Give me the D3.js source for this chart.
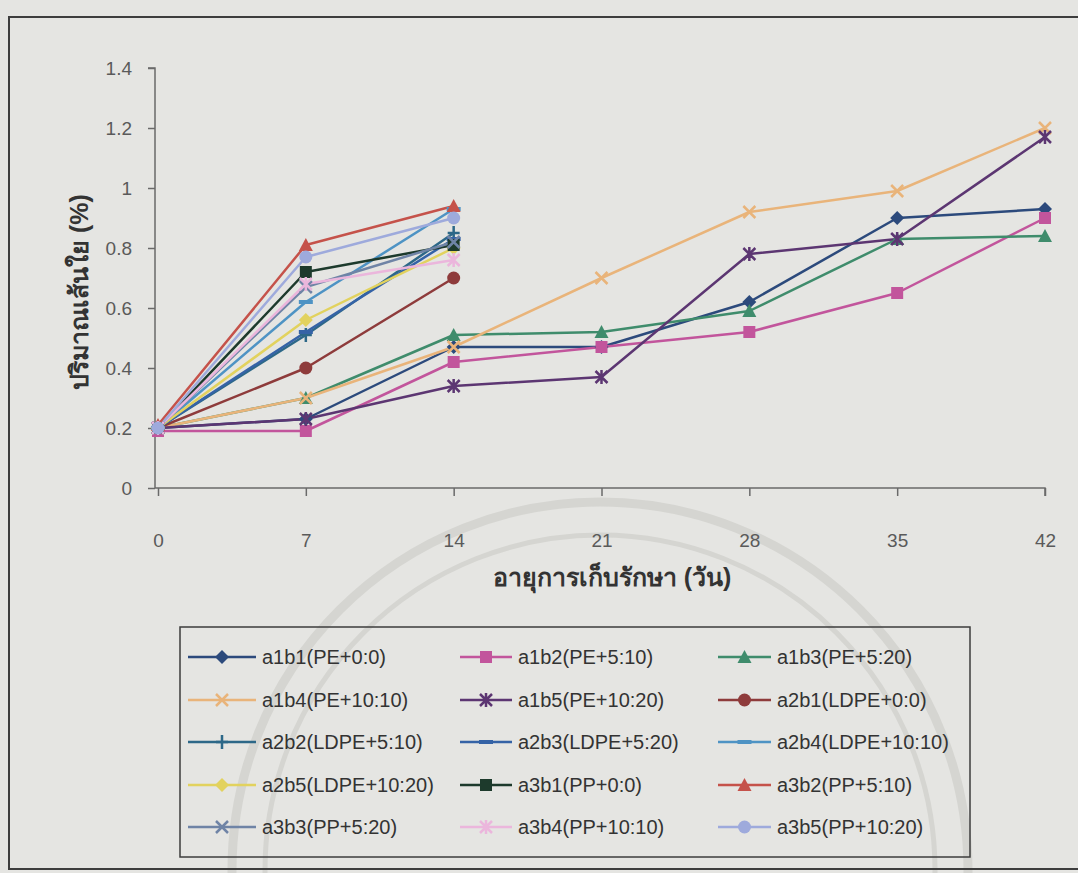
<!DOCTYPE html>
<html>
<head>
<meta charset="utf-8">
<script src="https://cdn.jsdelivr.net/npm/d3@7"></script>
<style>
  html, body { margin: 0; padding: 0; background: #e5e5e2; }
  svg { display: block; }
  text { font-family: "Liberation Sans", Arial, sans-serif; }
</style>
</head>
<body>
<svg id="chart" width="1078" height="873"></svg>
<script>
// Storage day (x axis)
const days = [0, 7, 14, 21, 28, 35, 42];
const yTicks = [0, 0.2, 0.4, 0.6, 0.8, 1, 1.2, 1.4];

// Series names
const seriesNames = [
  "a1b1(PE+0:0)", "a1b2(PE+5:10)", "a1b3(PE+5:20)",
  "a1b4(PE+10:10)", "a1b5(PE+10:20)", "a2b1(LDPE+0:0)",
  "a2b2(LDPE+5:10)", "a2b3(LDPE+5:20)", "a2b4(LDPE+10:10)",
  "a2b5(LDPE+10:20)", "a3b1(PP+0:0)", "a3b2(PP+5:10)",
  "a3b3(PP+5:20)", "a3b4(PP+10:10)", "a3b5(PP+10:20)"
];

// Fibre content (%) per storage day
const a1b1 = [0.20, 0.23, 0.47, 0.47, 0.62, 0.90, 0.93];
const a1b2 = [0.19, 0.19, 0.42, 0.47, 0.52, 0.65, 0.90];
const a1b3 = [0.20, 0.30, 0.51, 0.52, 0.59, 0.83, 0.84];
const a1b4 = [0.20, 0.30, 0.47, 0.70, 0.92, 0.99, 1.20];
const a1b5 = [0.20, 0.23, 0.34, 0.37, 0.78, 0.83, 1.17];
const a2b1 = [0.20, 0.40, 0.70];
const a2b2 = [0.20, 0.51, 0.85];
const a2b3 = [0.20, 0.52, 0.83];
const a2b4 = [0.20, 0.62, 0.93];
const a2b5 = [0.20, 0.56, 0.80];
const a3b1 = [0.20, 0.72, 0.81];
const a3b2 = [0.21, 0.81, 0.94];
const a3b3 = [0.20, 0.67, 0.82];
const a3b4 = [0.20, 0.68, 0.76];
const a3b5 = [0.20, 0.77, 0.90];

const seriesValues = [a1b1, a1b2, a1b3, a1b4, a1b5, a2b1, a2b2, a2b3, a2b4, a2b5, a3b1, a3b2, a3b3, a3b4, a3b5];

const colors = [
  "#2c4a7c", "#c2559c", "#3f8c6c", "#e9b47a", "#5c3672",
  "#8e3b3b", "#2d6888", "#3563a6", "#4e93c4", "#e2d25e",
  "#1d3a2c", "#c5524a", "#6f84a6", "#ebb6dc", "#9eaadc"
];
const shapes = [
  "diamond", "square", "triangle", "x", "asterisk",
  "circle", "plus", "dash", "dash", "diamond",
  "square", "triangle", "x", "asterisk", "circle"
];

const svg = d3.select("#chart");

// Faint seal rings in the background
const deco = svg.append("g").attr("fill", "none").attr("stroke", "#d5d5d1");
deco.append("circle").attr("cx", 600).attr("cy", 870).attr("r", 368).attr("stroke-width", 9);
deco.append("circle").attr("cx", 600).attr("cy", 870).attr("r", 335).attr("stroke-width", 5);

// Outer frame
svg.append("rect").attr("x", 9).attr("y", 17).attr("width", 1080).attr("height", 852)
  .attr("fill", "none").attr("stroke", "#3d3d3d").attr("stroke-width", 2);

const x = d3.scaleLinear().domain([0, 42]).range([158, 1045]);
const y = d3.scaleLinear().domain([0, 1.4]).range([488, 68]);

const axisColor = "#6a6a6a";

// Y axis
const yAxis = svg.append("g").attr("transform", "translate(155,0)")
  .call(d3.axisLeft(y).tickValues(yTicks).tickSize(7).tickPadding(16)
    .tickFormat(d => d3.format("~g")(d)));
// X axis
const xAxis = svg.append("g").attr("transform", "translate(0,488)")
  .call(d3.axisBottom(x).tickValues(days).tickSize(8).tickPadding(38));
[yAxis, xAxis].forEach(g => {
  g.select(".domain").attr("stroke", axisColor).attr("stroke-width", 1.5);
  g.selectAll(".tick line").attr("stroke", axisColor).attr("stroke-width", 1.5);
  g.selectAll(".tick text").attr("fill", "#5a5a5a").style("font-size", "19px");
});
// x axis starts at the y axis line
xAxis.select(".domain").attr("d", "M155,0H1045V8");
yAxis.select(".domain").attr("d", "M-7,68H0V488");

// Axis titles
svg.append("text").attr("x", 612).attr("y", 586).attr("text-anchor", "middle")
  .style("font-size", "25px").style("font-weight", "bold").attr("fill", "#333")
  .text("อายุการเก็บรักษา (วัน)");
svg.append("text").attr("transform", "translate(88,292) rotate(-90)").attr("text-anchor", "middle")
  .style("font-size", "25px").style("font-weight", "bold").attr("fill", "#333")
  .text("ปริมาณเส้นใย  (%)");

// Marker drawing
function drawMarker(g, shape, color, s) {
  const h = s / 2;
  switch (shape) {
    case "diamond":
      g.append("path").attr("d", `M0,${-h - 1}L${h + 1},0L0,${h + 1}L${-h - 1},0Z`).attr("fill", color); break;
    case "square":
      g.append("rect").attr("x", -h).attr("y", -h).attr("width", s).attr("height", s).attr("fill", color); break;
    case "triangle":
      g.append("path").attr("d", `M0,${-h - 1}L${h + 1},${h}L${-h - 1},${h}Z`).attr("fill", color); break;
    case "circle":
      g.append("circle").attr("r", h + 0.5).attr("fill", color); break;
    case "x":
      g.append("path").attr("d", `M${-h},${-h}L${h},${h}M${-h},${h}L${h},${-h}`)
        .attr("stroke", color).attr("stroke-width", 2.5).attr("fill", "none"); break;
    case "asterisk":
      g.append("path").attr("d", `M${-h},${-h}L${h},${h}M${-h},${h}L${h},${-h}M0,${-h - 1}V${h + 1}`)
        .attr("stroke", color).attr("stroke-width", 2.5).attr("fill", "none"); break;
    case "plus":
      g.append("path").attr("d", `M${-h},0H${h}M0,${-h - 1}V${h + 1}`)
        .attr("stroke", color).attr("stroke-width", 2.5).attr("fill", "none"); break;
    case "dash":
      g.append("path").attr("d", `M${-h - 1},0H${h + 1}`)
        .attr("stroke", color).attr("stroke-width", 4).attr("fill", "none"); break;
  }
}

const line = d3.line().x(d => x(d[0])).y(d => y(d[1]));
const plot = svg.append("g");

seriesValues.forEach((vals, i) => {
  const pts = vals.map((v, j) => [days[j], v]);
  plot.append("path").datum(pts).attr("d", line)
    .attr("fill", "none").attr("stroke", colors[i]).attr("stroke-width", 2.5)
    .attr("stroke-linejoin", "round");
});
seriesValues.forEach((vals, i) => {
  vals.forEach((v, j) => {
    const g = plot.append("g").attr("transform", `translate(${x(days[j])},${y(v)})`);
    drawMarker(g, shapes[i], colors[i], 12);
  });
});

// Legend: three columns, five rows
const legend = svg.append("g");
legend.append("rect").attr("x", 180).attr("y", 627).attr("width", 790).attr("height", 230)
  .attr("fill", "none").attr("stroke", "#3d3d3d").attr("stroke-width", 1.5);
const colLine = [188, 460, 718];
const colText = [262, 518, 777];
const rowY = [657, 700, 742, 785, 827];
seriesNames.forEach((name, i) => {
  const c = i % 3, cy = rowY[Math.floor(i / 3)];
  const x0 = colLine[c], x1 = colText[c] - 6;
  const g = legend.append("g").attr("transform", `translate(0,${cy})`);
  g.append("line").attr("x1", x0).attr("x2", x1).attr("stroke", colors[i]).attr("stroke-width", 2.5);
  const m = g.append("g").attr("transform", `translate(${(x0 + x1) / 2},0)`);
  drawMarker(m, shapes[i], colors[i], 12);
  g.append("text").attr("x", colText[c]).attr("y", 7).style("font-size", "20px").attr("fill", "#333").text(name);
});
</script>
</body>
</html>
